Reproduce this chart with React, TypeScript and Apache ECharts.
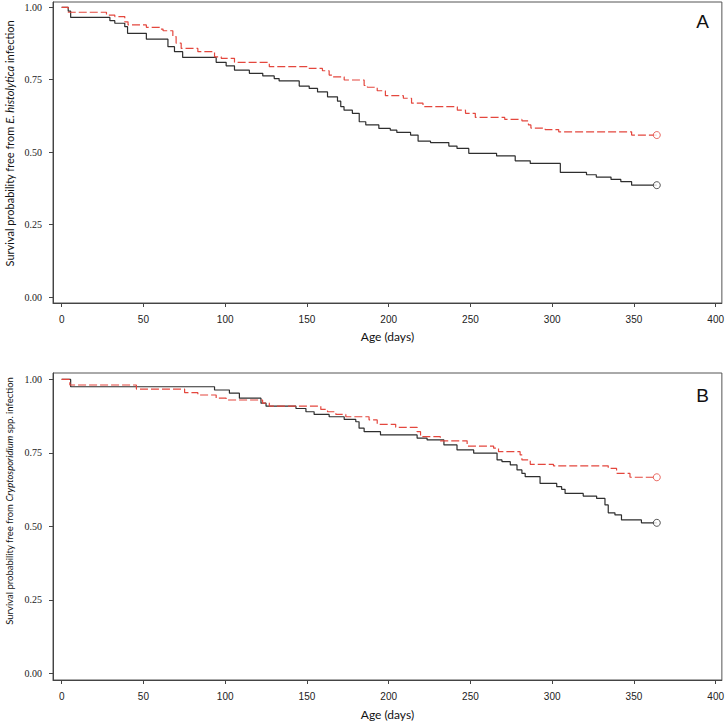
import React, { useEffect, useRef } from "react";
import * as echarts from "echarts";

// Panel A: E. histolytica
const aBlackDays = [0, 4, 5.5, 29.5, 32.5, 38.6, 40.3, 51.8, 65, 69, 74, 94.5, 100.6, 105.7, 114.8, 123, 130, 133, 145.3, 151.4, 156.5, 162.6, 168.7, 170.7, 172.7, 177.8, 182, 186, 194, 201, 205, 213.4, 218, 225.6, 236.8, 241.8, 249, 266, 277.4, 286.6, 305, 321, 327, 336, 342, 348.6, 364];
const aBlackSurv = [1, 0.987, 0.965, 0.954, 0.945, 0.933, 0.91, 0.89, 0.864, 0.847, 0.827, 0.81, 0.798, 0.783, 0.772, 0.763, 0.754, 0.746, 0.728, 0.72, 0.708, 0.691, 0.676, 0.657, 0.645, 0.634, 0.605, 0.594, 0.582, 0.576, 0.568, 0.559, 0.538, 0.533, 0.521, 0.513, 0.496, 0.487, 0.47, 0.461, 0.43, 0.422, 0.414, 0.406, 0.398, 0.386, 0.386];
const aRedDays = [0, 4, 27.4, 32.5, 38.6, 40.6, 51.8, 59.9, 62, 68, 70, 73.1, 83.3, 93.5, 97.6, 105.7, 127, 151.4, 159.5, 163.6, 165.7, 172.8, 185, 187, 193, 198, 209, 214, 221, 242, 247, 253, 271, 281.5, 285.5, 287, 295.7, 304, 348.6, 364];
const aRedSurv = [1, 0.983, 0.973, 0.968, 0.95, 0.939, 0.931, 0.925, 0.919, 0.899, 0.876, 0.858, 0.847, 0.829, 0.824, 0.81, 0.795, 0.789, 0.781, 0.766, 0.76, 0.749, 0.73, 0.724, 0.712, 0.695, 0.686, 0.669, 0.657, 0.645, 0.634, 0.62, 0.613, 0.608, 0.594, 0.583, 0.578, 0.57, 0.559, 0.559];

// Panel B: Cryptosporidium spp.
const bBlackDays = [0, 5.5, 93.5, 102.6, 108.7, 121.9, 125, 143.3, 149.4, 154.4, 163.6, 172.8, 179.9, 181.9, 185, 195, 217.4, 223.5, 233.8, 241.8, 252, 266.3, 269.3, 274.4, 278.5, 281.5, 283.5, 292.6, 302.8, 305.8, 307.9, 319, 327.2, 332.3, 334.3, 338.4, 342.4, 354.6, 364];
const bBlackSurv = [1, 0.975, 0.964, 0.953, 0.936, 0.919, 0.909, 0.901, 0.89, 0.881, 0.873, 0.864, 0.856, 0.834, 0.822, 0.811, 0.8, 0.794, 0.777, 0.76, 0.749, 0.726, 0.72, 0.709, 0.692, 0.68, 0.669, 0.646, 0.635, 0.626, 0.612, 0.603, 0.595, 0.573, 0.546, 0.539, 0.522, 0.512, 0.512];
const bRedDays = [0, 5, 45.7, 75.2, 83.3, 94.5, 100.6, 122.9, 127, 158.5, 162.6, 167.7, 173.8, 188, 193, 204.3, 217.4, 219.5, 231.6, 248, 264.2, 267.2, 280.4, 281.5, 286.6, 300.8, 334.3, 339.4, 347.6, 364];
const bRedSurv = [1, 0.981, 0.967, 0.955, 0.947, 0.936, 0.93, 0.919, 0.909, 0.898, 0.89, 0.881, 0.873, 0.862, 0.847, 0.837, 0.822, 0.805, 0.791, 0.773, 0.766, 0.754, 0.743, 0.726, 0.711, 0.706, 0.697, 0.68, 0.667, 0.667];

const xTicks = [0, 50, 100, 150, 200, 250, 300, 350, 400];
const yTicks = [0, 0.25, 0.5, 0.75, 1];
const xName = "Age (days)";
const yNameA = "Survival probability free from {i|E. histolytica} infection";
const yNameB = "Survival probability free from {i|Cryptosporidium} spp. infection";
const panelLetters = ["A", "B"];

const BLACK = "#2e2e2e";
const RED = "#e4473e";

function pairs(days: number[], surv: number[]) {
  return days.map((d, i) => [d, surv[i]]);
}

export default function App() {
  const ref = useRef<HTMLDivElement>(null);
  useEffect(() => {
    if (!ref.current) return;
    const chart = echarts.init(ref.current, undefined, { renderer: "svg" });

    const grids = [
      { left: 53, top: 2, width: 671, height: 301 },
      { left: 53, top: 373, width: 671, height: 307 },
    ];
    const yRanges = [
      [-0.0207, 1.0183],
      [-0.0228, 1.0218],
    ];
    const nameGaps = [27, 28];

    const xAxes = grids.map((_, i) => ({
      type: "value",
      gridIndex: i,
      min: -5.3,
      max: 403.8,
      name: xName,
      nameLocation: "middle",
      nameGap: nameGaps[i],
      nameTextStyle: { fontFamily: "Lato", fontSize: 12, color: "#111" },
      axisLine: { show: true, onZero: false, lineStyle: { color: "#444", width: 1 } },
      axisTick: { show: true, customValues: xTicks, length: 4, lineStyle: { color: "#444" } },
      axisLabel: {
        customValues: xTicks,
        margin: 11,
        fontFamily: "Liberation Sans",
        fontSize: 10,
        color: "#222",
      },
      splitLine: { show: false },
    }));

    const yAxes = grids.map((_, i) => ({
      type: "value",
      gridIndex: i,
      min: yRanges[i][0],
      max: yRanges[i][1],
      axisLine: { show: true, onZero: false, lineStyle: { color: "#444", width: 1 } },
      axisTick: { show: true, customValues: yTicks, length: 4, lineStyle: { color: "#444" } },
      axisLabel: {
        customValues: yTicks,
        margin: 11,
        fontFamily: "Liberation Sans Narrow",
        fontSize: 10,
        color: "#222",
        formatter: (v: number) => v.toFixed(2),
      },
      splitLine: { show: false },
    }));

    const curves = [
      { days: aBlackDays, surv: aBlackSurv, color: BLACK, dashed: false, g: 0 },
      { days: aRedDays, surv: aRedSurv, color: RED, dashed: true, g: 0 },
      { days: bBlackDays, surv: bBlackSurv, color: BLACK, dashed: false, g: 1 },
      { days: bRedDays, surv: bRedSurv, color: RED, dashed: true, g: 1 },
    ];

    const series: any[] = [];
    curves.forEach((c) => {
      series.push({
        type: "line",
        xAxisIndex: c.g,
        yAxisIndex: c.g,
        step: "end",
        showSymbol: false,
        silent: true,
        data: pairs(c.days, c.surv),
        lineStyle: { color: c.color, width: 1.2, type: c.dashed ? [8, 3] : "solid" },
        z: 3,
      });
      const n = c.days.length - 1;
      series.push({
        type: "scatter",
        xAxisIndex: c.g,
        yAxisIndex: c.g,
        symbol: "circle",
        symbolSize: 7,
        silent: true,
        data: [[c.days[n], c.surv[n]]],
        itemStyle: { color: "#fff", borderColor: c.color, borderWidth: 1 },
        z: 4,
      });
    });

    const yTitle = (text: string, cx: number, cy: number, fs: number) => ({
      type: "text",
      x: cx,
      y: cy,
      rotation: Math.PI / 2,
      style: {
        text,
        fontFamily: "Lato",
        fontSize: fs,
        fill: "#111",
        align: "center",
        verticalAlign: "middle",
        rich: { i: { fontStyle: "italic", fontFamily: "Lato", fontSize: fs, fill: "#111" } },
      },
    });

    chart.setOption({
      animation: false,
      backgroundColor: "#fff",
      grid: grids.map((g) => ({ ...g, show: true, borderColor: "#555", borderWidth: 1, backgroundColor: "transparent" })),
      xAxis: xAxes,
      yAxis: yAxes,
      series,
      graphic: [
        yTitle(yNameA, 9, 143.5, 11),
        yTitle(yNameB, 9, 501, 9.5),
        {
          type: "text",
          x: 702.5,
          y: 21.5,
          style: { text: panelLetters[0], fontFamily: "Liberation Sans", fontSize: 19, fill: "#111", align: "center", verticalAlign: "middle" },
        },
        {
          type: "text",
          x: 702.5,
          y: 395.5,
          style: { text: panelLetters[1], fontFamily: "Liberation Sans", fontSize: 19, fill: "#111", align: "center", verticalAlign: "middle" },
        },
      ],
    });
    return () => chart.dispose();
  }, []);
  return <div ref={ref} style={{ width: 727, height: 723, position: "absolute", left: 0, top: 0 }} />;
}
